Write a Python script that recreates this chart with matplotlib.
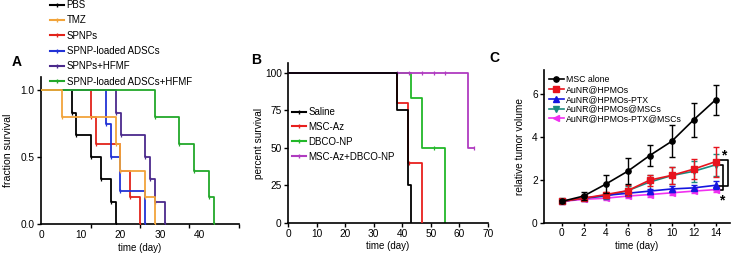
import matplotlib
matplotlib.use("Agg")
import matplotlib.pyplot as plt
from matplotlib.lines import Line2D
import numpy as np

plt.rcParams['font.family'] = ['Liberation Sans', 'DejaVu Sans']
plt.rcParams['font.size'] = 7

# ---------------- Panel A data ----------------
a_labels = ["PBS", "TMZ", "SPNPs", "SPNP-loaded ADSCs", "SPNPs+HFMF", "SPNP-loaded ADSCs+HFMF"]
a_colors = ["#000000", "#F2A43A", "#E2231A", "#2233D6", "#4B2A8C", "#22A82A"]
a_pbs_t = [0, 7.9, 8.8, 12.5, 15.1, 17.6, 18.9]
a_pbs_s = [1.0, 0.833, 0.667, 0.5, 0.333, 0.167, 0.0]
a_tmz_t = [0, 5.2, 18.9, 19.9, 26.3, 28.8]
a_tmz_s = [1.0, 0.8, 0.6, 0.4, 0.2, 0.0]
a_spnp_t = [0, 12.5, 13.9, 19.9, 22.6, 25.0]
a_spnp_s = [1.0, 0.8, 0.6, 0.4, 0.2, 0.0]
a_adsc_t = [0, 16.3, 17.6, 19.9, 26.3]
a_adsc_s = [1.0, 0.75, 0.5, 0.25, 0.0]
a_hfmf_t = [0, 18.9, 20.1, 26.3, 27.5, 28.8, 31.3]
a_hfmf_s = [1.0, 0.833, 0.667, 0.5, 0.333, 0.167, 0.0]
a_adschf_t = [0, 28.8, 34.9, 38.6, 42.5, 43.7]
a_adschf_s = [1.0, 0.8, 0.6, 0.4, 0.2, 0.0]
a_xticklabels = [0, 10, 20, 30, 40]
a_yticks = [0.0, 0.5, 1.0]

# ---------------- Panel B data ----------------
b_labels = ["Saline", "MSC-Az", "DBCO-NP", "MSC-Az+DBCO-NP"]
b_colors = ["#000000", "#E8201E", "#22B829", "#B03CC0"]
b_saline_t = [0, 38, 42, 43]
b_saline_s = [100, 75, 25, 0]
b_mscaz_t = [0, 38, 42, 47]
b_mscaz_s = [100, 80, 40, 0]
b_dbco_t = [0, 43, 47, 55]
b_dbco_s = [100, 83.3, 50, 0]
b_combo_t = [0, 63, 65]
b_combo_s = [100, 50, 50]
b_mscaz_cens_t = [42.5]
b_mscaz_cens_s = [40]
b_dbco_cens_t = [51]
b_dbco_cens_s = [50]
b_combo_cens_t = [38, 42.5, 47, 51, 55, 65]
b_combo_cens_s = [100, 100, 100, 100, 100, 50]
b_xticks = [0, 10, 20, 30, 40, 50, 60, 70]
b_yticks = [0, 25, 50, 75, 100]

# ---------------- Panel C data ----------------
c_days = [0, 2, 4, 6, 8, 10, 12, 14]
c_labels = ["MSC alone", "AuNR@HPMOs", "AuNR@HPMOs-PTX", "AuNR@HPMOs@MSCs", "AuNR@HPMOs-PTX@MSCs"]
c_colors = ["#000000", "#E8141E", "#1515E0", "#1A8C80", "#F030F0"]
c_markers = ["o", "s", "^", "v", "<"]
c_msc = [1.0, 1.25, 1.8, 2.4, 3.13, 3.79, 4.79, 5.72]
c_msc_err = [0.05, 0.2, 0.42, 0.6, 0.5, 0.75, 0.8, 0.7]
c_aunr = [1.0, 1.15, 1.32, 1.5, 1.99, 2.21, 2.5, 2.85]
c_aunr_err = [0.05, 0.1, 0.12, 0.27, 0.25, 0.4, 0.45, 0.7]
c_ptx = [1.0, 1.15, 1.28, 1.38, 1.48, 1.58, 1.63, 1.75]
c_ptx_err = [0.05, 0.08, 0.1, 0.12, 0.12, 0.15, 0.12, 0.18]
c_mscs = [1.0, 1.15, 1.25, 1.5, 1.9, 2.2, 2.4, 2.7]
c_mscs_err = [0.05, 0.1, 0.15, 0.2, 0.35, 0.4, 0.5, 0.5]
c_ptxmsc = [1.0, 1.1, 1.15, 1.25, 1.32, 1.4, 1.48, 1.55]
c_ptxmsc_err = [0.05, 0.08, 0.08, 0.1, 0.1, 0.1, 0.1, 0.1]
c_yticks = [0, 2, 4, 6]

fig = plt.figure(figsize=(7.34, 2.58), dpi=100)

def style(ax):
    for s in ["top", "right"]:
        ax.spines[s].set_visible(False)
    for s in ["left", "bottom"]:
        ax.spines[s].set_linewidth(1.2)
    ax.tick_params(width=1.0, length=3, pad=1.5, labelsize=7.3)

# ---------------- Panel A ----------------
axA = fig.add_axes([41/734, 1-224/258, 198/734, 147/258])
style(axA)
a_t = [a_pbs_t, a_tmz_t, a_spnp_t, a_adsc_t, a_hfmf_t, a_adschf_t]
a_s = [a_pbs_s, a_tmz_s, a_spnp_s, a_adsc_s, a_hfmf_s, a_adschf_s]
order = [0, 2, 3, 4, 5, 1]
for i in order:
    axA.step(a_t[i], a_s[i], where="post", color=a_colors[i], lw=1.3, zorder=2+order.index(i))
    axA.plot(a_t[i][1:], a_s[i][1:], ls="none", marker="|", ms=3, mew=0.9,
             color=a_colors[i], zorder=2+order.index(i))
axA.set_xlim(0, 50)
axA.set_ylim(0, 1.1)
axA.set_xticks(a_xticklabels)
axA.set_xticklabels([str(v) for v in a_xticklabels])
axA.set_xticks(np.arange(0, 50.1, 12.5), minor=True)
axA.tick_params(axis="x", which="major", length=0, pad=4)
axA.tick_params(axis="x", which="minor", length=3, width=1.0)
axA.set_yticks(a_yticks)
axA.set_yticklabels(["0.0", "0.5", "1.0"])
axA.set_xlabel("time (day)", fontsize=7)
axA.set_ylabel("fraction survival", fontsize=7.6)
axA.xaxis.set_label_coords(0.5, -0.13)
axA.yaxis.set_label_coords(-0.14, 0.5)
handlesA = [Line2D([], [], color=c, lw=1.5, marker="|", ms=3, mew=1.0) for c in a_colors]
legA = axA.legend(handlesA, a_labels, loc="upper left", bbox_to_anchor=(50/734, 1.0),
                  bbox_transform=fig.transFigure, frameon=False, fontsize=7,
                  handlelength=1.45, handletextpad=0.25, labelspacing=0.55,
                  borderaxespad=0, borderpad=0)

# ---------------- Panel B ----------------
axB = fig.add_axes([288/734, 1-223/258, 200/734, 160/258])
style(axB)
axB.step(b_dbco_t, b_dbco_s, where="post", color=b_colors[2], lw=1.3, zorder=2)
axB.step(b_mscaz_t, b_mscaz_s, where="post", color=b_colors[1], lw=1.3, zorder=3)
axB.step(b_combo_t, b_combo_s, where="post", color=b_colors[3], lw=1.3, zorder=4)
axB.step(b_saline_t, b_saline_s, where="post", color=b_colors[0], lw=1.3, zorder=5)
axB.plot(b_mscaz_cens_t, b_mscaz_cens_s, ls="none", marker="|", ms=3.5, mew=0.9, color=b_colors[1], zorder=3)
axB.plot(b_dbco_cens_t, b_dbco_cens_s, ls="none", marker="|", ms=3.5, mew=0.9, color=b_colors[2], zorder=2)
axB.plot(b_combo_cens_t, b_combo_cens_s, ls="none", marker="|", ms=3.5, mew=0.9, color=b_colors[3], zorder=4)
axB.set_xlim(0, 70)
axB.set_ylim(0, 106.5)
axB.set_xticks(b_xticks)
axB.set_yticks(b_yticks)
axB.set_xlabel("time (day)", fontsize=7)
axB.set_ylabel("percent survival", fontsize=7.3)
axB.xaxis.set_label_coords(0.5, -0.115)
axB.yaxis.set_label_coords(-0.12, 0.5)
handlesB = [Line2D([], [], color=c, lw=1.5, marker="|", ms=3, mew=1.0) for c in b_colors]
legB = axB.legend(handlesB, b_labels, loc="upper left", bbox_to_anchor=(292/734, 1-107/258),
                  bbox_transform=fig.transFigure, frameon=False, fontsize=7,
                  handlelength=1.45, handletextpad=0.25, labelspacing=0.5,
                  borderaxespad=0, borderpad=0)

# ---------------- Panel C ----------------
axC = fig.add_axes([544/734, 1-223/258, 186/734, 153/258])
style(axC)
c_vals = [c_msc, c_aunr, c_ptx, c_mscs, c_ptxmsc]
c_errs = [c_msc_err, c_aunr_err, c_ptx_err, c_mscs_err, c_ptxmsc_err]
zorders = [6, 5, 4, 3, 2]
for v, e, col, m, lab, z in zip(c_vals, c_errs, c_colors, c_markers, c_labels, zorders):
    axC.errorbar(c_days, v, yerr=e, color=col, marker=m, ms=3.8, lw=1.2, elinewidth=1.0,
                 capsize=2, capthick=1.0, label=lab, zorder=z)
axC.set_xlim(-1.6, 15.3)
axC.set_ylim(0, 7.1)
axC.set_xticks(c_days)
axC.set_yticks(c_yticks)
axC.tick_params(axis="x", length=2)
axC.set_xlabel("time (day)", fontsize=7)
axC.set_ylabel("relative tumor volume", fontsize=7.3)
axC.xaxis.set_label_coords(0.5, -0.12)
axC.yaxis.set_label_coords(-0.1, 0.5)
handlesC = [Line2D([], [], color=c, marker=m, ms=3.8, lw=1.2) for c, m in zip(c_colors, c_markers)]
legC = axC.legend(handlesC, c_labels, loc="upper left", bbox_to_anchor=(549/734, 1-75/258),
                  bbox_transform=fig.transFigure, frameon=False, fontsize=6.3,
                  handlelength=1.7, handletextpad=0.2, labelspacing=0.1,
                  borderaxespad=0, borderpad=0)
# significance brackets
bk = dict(color="black", lw=1.2, clip_on=False)
axC.plot([14.3, 15.1, 15.1, 14.3], [2.93, 2.93, 1.74, 1.74], **bk)
axC.plot([14.3, 14.65, 14.65, 14.3], [2.68, 2.68, 1.52, 1.52], **bk)
axC.text(14.75, 3.15, "*", fontsize=10, fontweight="bold", ha="center", va="center", clip_on=False)
axC.text(14.55, 1.05, "*", fontsize=10, fontweight="bold", ha="center", va="center", clip_on=False)

# panel letters
fig.text(17/734, 1-62/258, "A", fontsize=10, fontweight="bold", ha="center", va="center")
fig.text(256/734, 1-60/258, "B", fontsize=10, fontweight="bold", ha="center", va="center")
fig.text(494/734, 1-58/258, "C", fontsize=10, fontweight="bold", ha="center", va="center")

fig.savefig("out.png", dpi=100)
